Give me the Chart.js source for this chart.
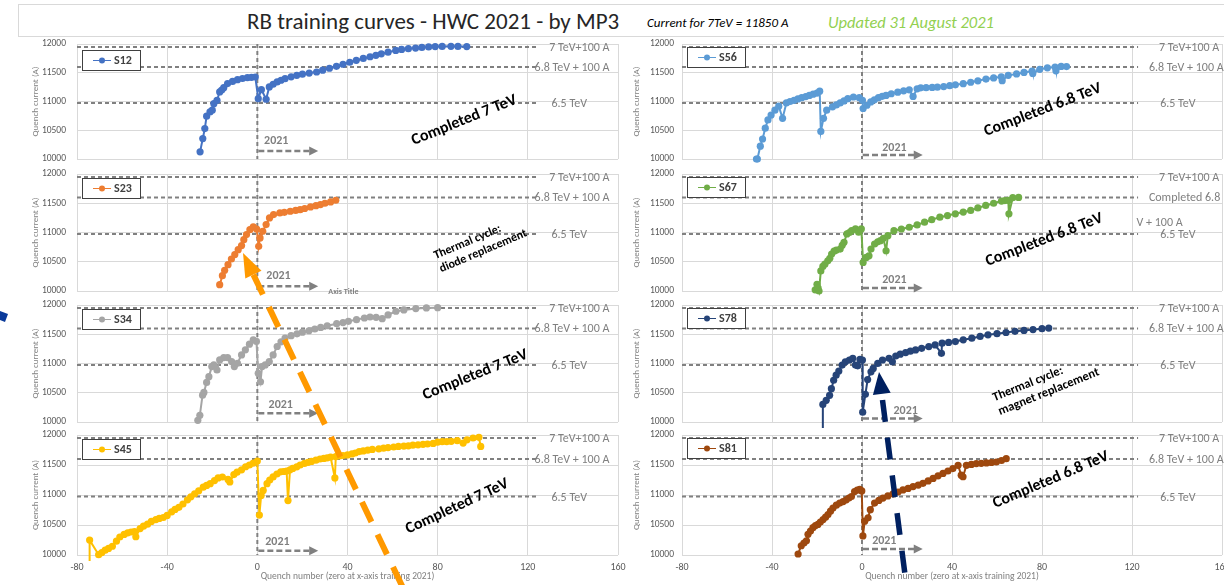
<!DOCTYPE html>
<html><head><meta charset="utf-8">
<script src="https://cdn.jsdelivr.net/npm/chart.js@4.4.0/dist/chart.umd.min.js"></script>
<style>
html,body{margin:0;padding:0;width:1224px;height:585px;overflow:hidden;background:#fff;font-family:Carlito,Lato,sans-serif;position:relative;}
.panel{position:absolute;}
.txt{position:absolute;white-space:nowrap;line-height:1;}
#titlebox{position:absolute;left:18px;top:4px;width:1240px;height:31px;border:1px solid #d9d9d9;}
#overlay{position:absolute;left:0;top:0;width:1224px;height:585px;pointer-events:none;z-index:10;}
</style></head>
<body>
<div id="titlebox"></div>
<div class="txt" style="left:247px;top:10px;font-size:23px;color:#262626;">RB training curves - HWC 2021 - by MP3</div>
<div class="txt" style="left:647px;top:16px;font-size:13px;font-style:italic;color:#000;">Current for 7TeV = 11850 A</div>
<div class="txt" style="left:828px;top:14px;font-size:16.5px;font-style:italic;color:#92D050;">Updated 31 August 2021</div>
<script>
// ---------------- DATA ----------------
const SERIES_NAMES = ['S12','S23','S34','S45','S56','S67','S78','S81'];
const X_MIN = -80, X_MAX = 160, X_STEP = 40;
const Y_MIN = 10000, Y_MAX = 12000, Y_STEP = 500;
const REF_LEVELS = [11950, 11600, 10975];
const REF_LABELS = ['7 TeV+100 A', '6.8 TeV + 100 A', '6.5 TeV'];

const S12_X = [-25.4,-24.2,-23.3,-22.5,-21,-20,-19.3,-17.9,-16.7,-15.8,-14.9,-13.2,-11,-8.8,-6.6,-4.4,-2.6,-0.9,0.4,1.8,3.9,5.3,7,8.8,10.5,12.3,15,17.5,20,23,26.3,29,32,35.1,38,41,43.9,47,50,52.6,55,58,61.4,64,67,70.2,73,76,78.9,82,85.9,89,92.9];
const S12_Y = [10124,10356,10529,10744,10819,10850,10963,11021,11166,11200,11241,11311,11350,11380,11400,11415,11420,11426,11050,11206,11039,11253,11300,11340,11370,11397,11430,11455,11475,11495,11513,11545,11578,11612,11648,11683,11716,11750,11778,11803,11830,11858,11889,11905,11918,11930,11940,11950,11955,11958,11960,11958,11955];

const S23_X = [-16.7,-15.5,-14.5,-13,-11.5,-10,-8.5,-7,-6,-4.8,-3.3,-1.8,-0.3,0.6,1.2,2.4,3.9,5.4,7.2,10,12,14.6,17,19,21,23.6,26,28,30,32.5,34.8];
const S23_Y = [10108,10262,10354,10450,10547,10622,10707,10776,10878,10964,11049,11095,11060,10764,10907,11021,11135,11249,11306,11334,11345,11363,11378,11391,11410,11437,11458,11477,11500,11522,11551];

const S34_X = [-26.4,-25.5,-24.3,-23.7,-22.5,-21.5,-20.2,-19.3,-17.9,-16.7,-14.9,-13.2,-11.4,-10.2,-8.8,-7,-5.3,-3.5,-1.8,-0.4,0.4,1.4,2.1,3.5,5.3,7,8.8,10.5,12.3,15,17.6,20,22.9,25.5,28.1,31,35.2,38,40.4,44,47.5,50,52.7,55.4,58,61.5,65,70.3,75,80];
const S34_Y = [10029,10115,10459,10505,10677,10774,10947,10975,10889,11061,11101,11101,11033,10947,11004,11147,11233,11331,11405,11377,10832,10688,10947,10975,11033,11147,11291,11370,11434,11475,11508,11535,11560,11590,11617,11645,11680,11700,11721,11750,11778,11795,11790,11767,11830,11893,11915,11939,11950,11955];

const S45_X = [-74.5,-74.4,-70.4,-69,-67.5,-66,-64.3,-62.5,-61,-59.1,-57.5,-56,-54.5,-53.9,-52,-50.5,-48.7,-47,-45,-43.5,-41.7,-40,-38,-36.5,-34.8,-33,-31,-29.5,-27.8,-26,-24,-22.5,-20.9,-19,-17.4,-15.5,-13,-12.2,-10.4,-9,-7,-5.2,-3.5,-1.8,0,
  0.9,1.7,2.6,4.3,5.5,7,8.7,10.4,11.7,13,13.6,14.5,15.7,17.5,19,20.9,22.5,24,26,27.8,29.5,31,32.5,34.4,34.8,36.5,38,40,42,43.5,45.2,47,49,51,53.9,56,58,60.5,62.6,65,67,69,71.3,73.5,75.5,78,80,82,84,86,88.7,91.3,93,95.7,98.3,99.1];
const S45_Y = [9700,10248,10005,10040,10080,10110,10146,10230,10300,10343,10370,10383,10390,10304,10440,10480,10513,10560,10590,10610,10625,10660,10720,10760,10794,10850,10920,10970,11020,11070,11130,11160,11189,11240,11285,11300,11260,11217,11341,11380,11420,11471,11500,11530,11567,
  10665,10992,11076,11189,11250,11302,11350,11386,11392,11398,10907,11420,11443,11470,11500,11527,11545,11560,11580,11600,11610,11620,11630,11285,11640,11650,11658,11668,11685,11700,11724,11735,11748,11760,11770,11780,11790,11800,11809,11815,11820,11830,11837,11845,11850,11860,11882,11888,11890,11895,11905,11865,11920,11950,11961,11809];

const S56_X = [-46.9,-46.5,-45.2,-44.2,-43,-41.8,-40.4,-38.7,-37,-35.3,-33.6,-32,-30.2,-28.5,-26.8,-25,-23.4,-21.7,-20,-18.8,-18.3,-17.1,-15.7,-13.1,-11.4,-9.7,-8,-6.3,-3.8,-1.2,0.2,0.5,2.2,3.9,5.5,7.3,9,10.7,13,15.9,18.5,21,22.7,24.5,26.1,28.5,31.2,33.5,36.3,39,41.5,45,48.3,51.5,55.1,58.5,61.9,62.3,65,68.7,72,75.6,75.9,79,82.4,85.8,86.2,88.5,90.9];
const S56_Y = [10000,10000,10223,10348,10536,10679,10764,10850,10918,10707,10975,11000,11021,11045,11066,11085,11106,11127,11146,11180,10479,10707,10850,10907,10940,10975,11010,11049,11078,11066,11021,10878,10935,10992,11030,11066,11090,11106,11135,11163,11185,11203,11089,11220,11237,11240,11245,11250,11260,11275,11290,11310,11335,11360,11390,11410,11430,11363,11455,11480,11505,11530,11488,11560,11585,11600,11534,11610,11608];

const S67_X = [-20.8,-20,-19.5,-19.1,-18.3,-17.4,-16.5,-15.2,-14.3,-13.5,-12.4,-11.4,-9.7,-8.8,-8,-6.7,-5.6,-4.6,-2.9,-1.5,-0.3,0.5,1.9,3.1,4,5.6,7,8.2,9.5,10.7,11.5,14.2,17.5,21,24.5,27.8,31,34.6,38,41.5,45,48.3,51.5,55,58.5,62,63.5,65,65.3,67,69.6];
const S67_Y = [10020,10115,10050,10000,10344,10420,10459,10516,10560,10631,10680,10700,10717,10780,10832,10975,11000,11032,11061,11004,11061,10488,10574,10602,10717,10803,10840,10860,10900,10688,10946,11032,11060,11090,11130,11176,11220,11262,11290,11319,11350,11377,11420,11463,11500,11537,11545,11549,11320,11595,11600];

const S78_X = [-17.5,-17.4,-15.9,-14.4,-13.6,-12.6,-11.5,-10.3,-8.8,-7.4,-5.6,-4.1,-2.9,-1.9,-0.9,0.2,0.3,1.5,2.5,4,5,7,9.1,12,13.5,15,17,19.4,21.5,23.8,26.5,29.7,32.5,35.3,35.6,38.5,41.5,45,48.8,52.5,56,60,64,68,72,76,80,83];
const S78_Y = [9700,10300,10370,10456,10570,10714,10800,10870,10973,11030,11060,11088,10973,10960,11070,11060,10168,10473,10726,10858,10915,11002,11060,11088,11030,11128,11160,11186,11210,11232,11260,11290,11318,11174,11347,11360,11375,11405,11433,11462,11490,11510,11530,11550,11565,11580,11595,11605];

const S81_X = [-28.4,-27,-25.8,-24.7,-24,-22.9,-21.8,-20.7,-19.6,-18.5,-17.3,-16.2,-15.1,-14,-12.9,-11.4,-9.9,-8.4,-7,-5.8,-4.7,-3.3,-2.1,-1,-0.1,0.4,1.2,2.7,3.7,5.6,7.5,9.3,11.5,13.8,16,18.2,20.5,22.7,25,27.1,29.4,31.6,33.8,36,38.2,40.4,42.7,44.1,44.9,46.4,48.6,50.8,53,55.3,57.5,59.7,62,64.1];
const S81_Y = [10017,10154,10200,10236,10345,10400,10455,10490,10510,10550,10592,10630,10674,10730,10783,10830,10866,10890,10920,10950,10975,11057,11080,11096,11068,10318,10564,10619,10756,10866,10910,10948,10985,11019,11050,11085,11110,11140,11165,11194,11235,11276,11320,11359,11400,11441,11495,11331,11304,11495,11510,11523,11528,11534,11542,11550,11575,11605];

const SERIES_X = [S12_X,S23_X,S34_X,S45_X,S56_X,S67_X,S78_X,S81_X];
const SERIES_Y = [S12_Y,S23_Y,S34_Y,S45_Y,S56_Y,S67_Y,S78_Y,S81_Y];
const COLORS = ['#4472C4','#ED7D31','#A5A5A5','#FFC000','#5B9BD5','#70AD47','#264478','#9E480E'];

// ---------------- LAYOUT ----------------
const FONT = 'Carlito, Lato, sans-serif';
Chart.defaults.font.family = FONT;
const COLS = [
  {left:0, width:640, areaLeft:77, areaRight:618, refEnd:124.3, labelX:[129.5,123,130.5], yTitlePad:30.5, yTickPad:11},
  {left:620, width:640, areaLeft:682, areaRight:1222, refEnd:122.7, labelX:[132,127.5,132.5], yTitlePad:11.5, yTickPad:8}
];
const ROWS = [{top:44,bottom:159},{top:174,bottom:291},{top:305,bottom:422},{top:435,bottom:555}];
const PAD = 8;

const NOTES = [
  {t:['Completed 7 TeV'], x:91.8, y:10672, a:-22, s:16},
  {t:['Thermal cycle:','diode replacement'], x:99, y:10793, a:-23, s:12, left:true},
  {t:['Completed 7 TeV'], x:96.7, y:10802, a:-22, s:16},
  {t:['Completed 7 TeV'], x:88.7, y:10807, a:-25, s:16},
  {t:['Completed 6.8 TeV'], x:80.4, y:10852, a:-21, s:16},
  {t:['Completed 6.8 TeV'], x:81, y:10872, a:-21, s:16},
  {t:['Thermal cycle:','magnet replacement'], x:81.8, y:10632, a:-22, s:12.5, left:true},
  {t:['Completed 6.8 TeV'], x:84, y:11250, a:-23, s:16}
];
const YEAR_TAGS = [
  {tx:3,ty:10320,ay:10140},{tx:4,ty:10250,ay:10080},{tx:5,ty:10290,ay:10150},{tx:3.5,ty:10220,ay:10070},
  {tx:9,ty:10190,ay:10070},{tx:9,ty:10180,ay:10050},{tx:14,ty:10190,ay:10060},{tx:4.5,ty:10230,ay:10100}
];

const annot = {
  id:'annot',
  beforeDatasetsDraw(chart){
    const o = chart.options.plugins.annot;
    const {ctx, chartArea:a, scales:{x,y}} = chart;
    ctx.save();
    ctx.strokeStyle = '#808080'; ctx.lineWidth = 2; ctx.setLineDash([4,3]);
    REF_LEVELS.forEach(v=>{
      const py = y.getPixelForValue(v);
      ctx.beginPath(); ctx.moveTo(a.left, py); ctx.lineTo(x.getPixelForValue(o.col.refEnd), py); ctx.stroke();
    });
    const px0 = x.getPixelForValue(0);
    ctx.beginPath(); ctx.moveTo(px0, a.top); ctx.lineTo(px0, a.bottom); ctx.stroke();
    ctx.restore();
  },
  afterDatasetsDraw(chart){
    const o = chart.options.plugins.annot;
    const {ctx, chartArea:a, scales:{x,y}} = chart;
    ctx.save();
    ctx.fillStyle = '#808080'; ctx.font = '12px ' + FONT; ctx.textBaseline = 'middle'; ctx.textAlign = 'left';
    const labels = o.refLabels || REF_LABELS;
    REF_LEVELS.forEach((v,i)=>{
      ctx.fillText(labels[i], x.getPixelForValue(o.col.labelX[i]), y.getPixelForValue(v)+1);
    });
    if (o.extra) ctx.fillText(o.extra.t, x.getPixelForValue(o.extra.x), y.getPixelForValue(o.extra.y));
    const ds = chart.data.datasets[0];
    const bx = Math.round(a.left + 5), by = Math.round(a.top + o.legendDy), bw = 58, bh = 20;
    ctx.setLineDash([]);
    ctx.fillStyle = '#fff'; ctx.fillRect(bx, by, bw, bh);
    ctx.strokeStyle = '#404040'; ctx.lineWidth = 1; ctx.strokeRect(bx+0.5, by+0.5, bw, bh);
    ctx.strokeStyle = ds.borderColor; ctx.beginPath(); ctx.moveTo(bx+11, by+bh/2+0.5); ctx.lineTo(bx+29, by+bh/2+0.5); ctx.stroke();
    ctx.fillStyle = ds.backgroundColor; ctx.beginPath(); ctx.arc(bx+20, by+bh/2+0.5, 3, 0, Math.PI*2); ctx.fill();
    ctx.fillStyle = '#404040'; ctx.font = 'bold 12px ' + FONT; ctx.fillText(ds.label, bx+32, by+bh/2+1);
    const yr = o.yr, px0 = x.getPixelForValue(0);
    ctx.fillStyle = '#808080'; ctx.font = 'bold 12px ' + FONT;
    ctx.fillText('2021', x.getPixelForValue(yr.tx), y.getPixelForValue(yr.ty));
    const ay = y.getPixelForValue(yr.ay), ax1 = x.getPixelForValue(27);
    ctx.strokeStyle = '#808080'; ctx.lineWidth = 2.5; ctx.setLineDash([6,3]);
    ctx.beginPath(); ctx.moveTo(px0+1, ay); ctx.lineTo(ax1-8, ay); ctx.stroke();
    ctx.setLineDash([]); ctx.beginPath(); ctx.moveTo(ax1, ay); ctx.lineTo(ax1-9, ay-4.5); ctx.lineTo(ax1-9, ay+4.5); ctx.closePath(); ctx.fill();
    if (o.axisTitle) {
      ctx.font = 'bold 8px ' + FONT; ctx.fillStyle = '#808080';
      ctx.fillText('Axis Title', x.getPixelForValue(31.5), a.bottom + 1);
    }
    const n = o.note;
    ctx.save();
    ctx.translate(x.getPixelForValue(n.x), y.getPixelForValue(n.y));
    ctx.rotate(n.a*Math.PI/180);
    ctx.fillStyle = '#000'; ctx.font = 'bold ' + n.s + 'px ' + FONT; ctx.textBaseline = 'middle';
    const lh = n.s*1.2;
    if (n.left) {
      const mw = Math.max(...n.t.map(t=>ctx.measureText(t).width));
      ctx.textAlign = 'left';
      n.t.forEach((t,i)=>ctx.fillText(t, -mw/2, (i-(n.t.length-1)/2)*lh));
    } else {
      ctx.textAlign = 'center';
      n.t.forEach((t,i)=>ctx.fillText(t, 0, (i-(n.t.length-1)/2)*lh));
    }
    ctx.restore();
    ctx.restore();
  }
};

function pts(xs, ys){ return xs.map((v,i)=>({x:v, y:ys[i]})); }

SERIES_NAMES.forEach((name, k)=>{
  const ci = k < 4 ? 0 : 1, ri = k % 4;
  const col = COLS[ci], row = ROWS[ri];
  const isBottom = ri === 3;
  const top = row.top - PAD;
  const height = isBottom ? 585 - top : (row.bottom - row.top) + 2*PAD;
  const div = document.createElement('div');
  div.className = 'panel';
  div.style.cssText = `left:${col.left}px;top:${top}px;width:${col.width}px;height:${height}px;`;
  const cv = document.createElement('canvas');
  div.appendChild(cv);
  document.body.appendChild(div);
  new Chart(cv, {
    type:'line',
    data:{datasets:[{
      label:name, data:pts(SERIES_X[k], SERIES_Y[k]),
      borderColor:COLORS[k], backgroundColor:COLORS[k], borderWidth:2,
      pointRadius:3.6, pointBorderWidth:0, pointHoverRadius:3.6, tension:0, clip:6
    }]},
    options:{
      responsive:true, maintainAspectRatio:false, animation:false, events:[],
      layout:{padding:{left:0, right:col.left+col.width-col.areaRight, top:PAD, bottom:isBottom?0:PAD}},
      plugins:{
        legend:{display:false}, tooltip:{enabled:false},
        annot:{col:col, note:NOTES[k], yr:YEAR_TAGS[k], legendDy: ci===0 ? (ri===0?6:4) : 3,
          axisTitle: k===1,
          refLabels: k===5 ? ['7 TeV+100 A','Completed 6.8','6.5 TeV'] : null,
          extra: k===5 ? {t:'V + 100 A', x:122, y:11165} : null}
      },
      scales:{
        x:{type:'linear', min:X_MIN, max:X_MAX,
          ticks:{stepSize:X_STEP, display:isBottom, color:'#595959', font:{size:10}, padding:6, maxRotation:0, callback:v=>String(v)},
          grid:{color:'#d9d9d9', drawTicks:false, lineWidth:1}, border:{display:false},
          title:{display:isBottom, text:'Quench number (zero at x-axis training 2021)', color:'#808080', font:{size:9.5}, padding:{top:0,bottom:3}},
          afterFit:s=>{ s.height = isBottom ? 30 : 0; s.paddingLeft = 0; s.paddingRight = 0; }
        },
        y:{min:Y_MIN, max:Y_MAX,
          ticks:{stepSize:Y_STEP, color:'#595959', font:{size:9.5}, padding:col.yTickPad, callback:v=>String(v)},
          grid:{color:'#d9d9d9', drawTicks:false, lineWidth:1}, border:{display:false},
          title:{display:true, text:'Quench current (A)', color:'#808080', font:{size:9}, padding:{top:col.yTitlePad,bottom:0}},
          afterFit:s=>{ s.width = col.areaLeft - col.left; s.paddingTop = 0; s.paddingBottom = 0; }
        }
      }
    },
    plugins:[annot]
  });
});
</script>
<svg id="overlay" viewBox="0 0 1224 585" xmlns="http://www.w3.org/2000/svg">
  <line x1="253.4" y1="274.6" x2="404" y2="590" stroke="#FF9900" stroke-width="6" stroke-dasharray="22 14"/>
  <polygon points="243,253 261.5,270.7 245.3,278.5" fill="#FF9900"/>
  <line x1="882.5" y1="400" x2="907" y2="590" stroke="#002060" stroke-width="5.5" stroke-dasharray="22 16"/>
  <polygon points="879,372 890.7,392.7 872.9,394.9" fill="#002060"/>
  <polygon points="0,311 8,314 5,322 0,320" fill="#0a3a9a"/>
</svg>
</body></html>
